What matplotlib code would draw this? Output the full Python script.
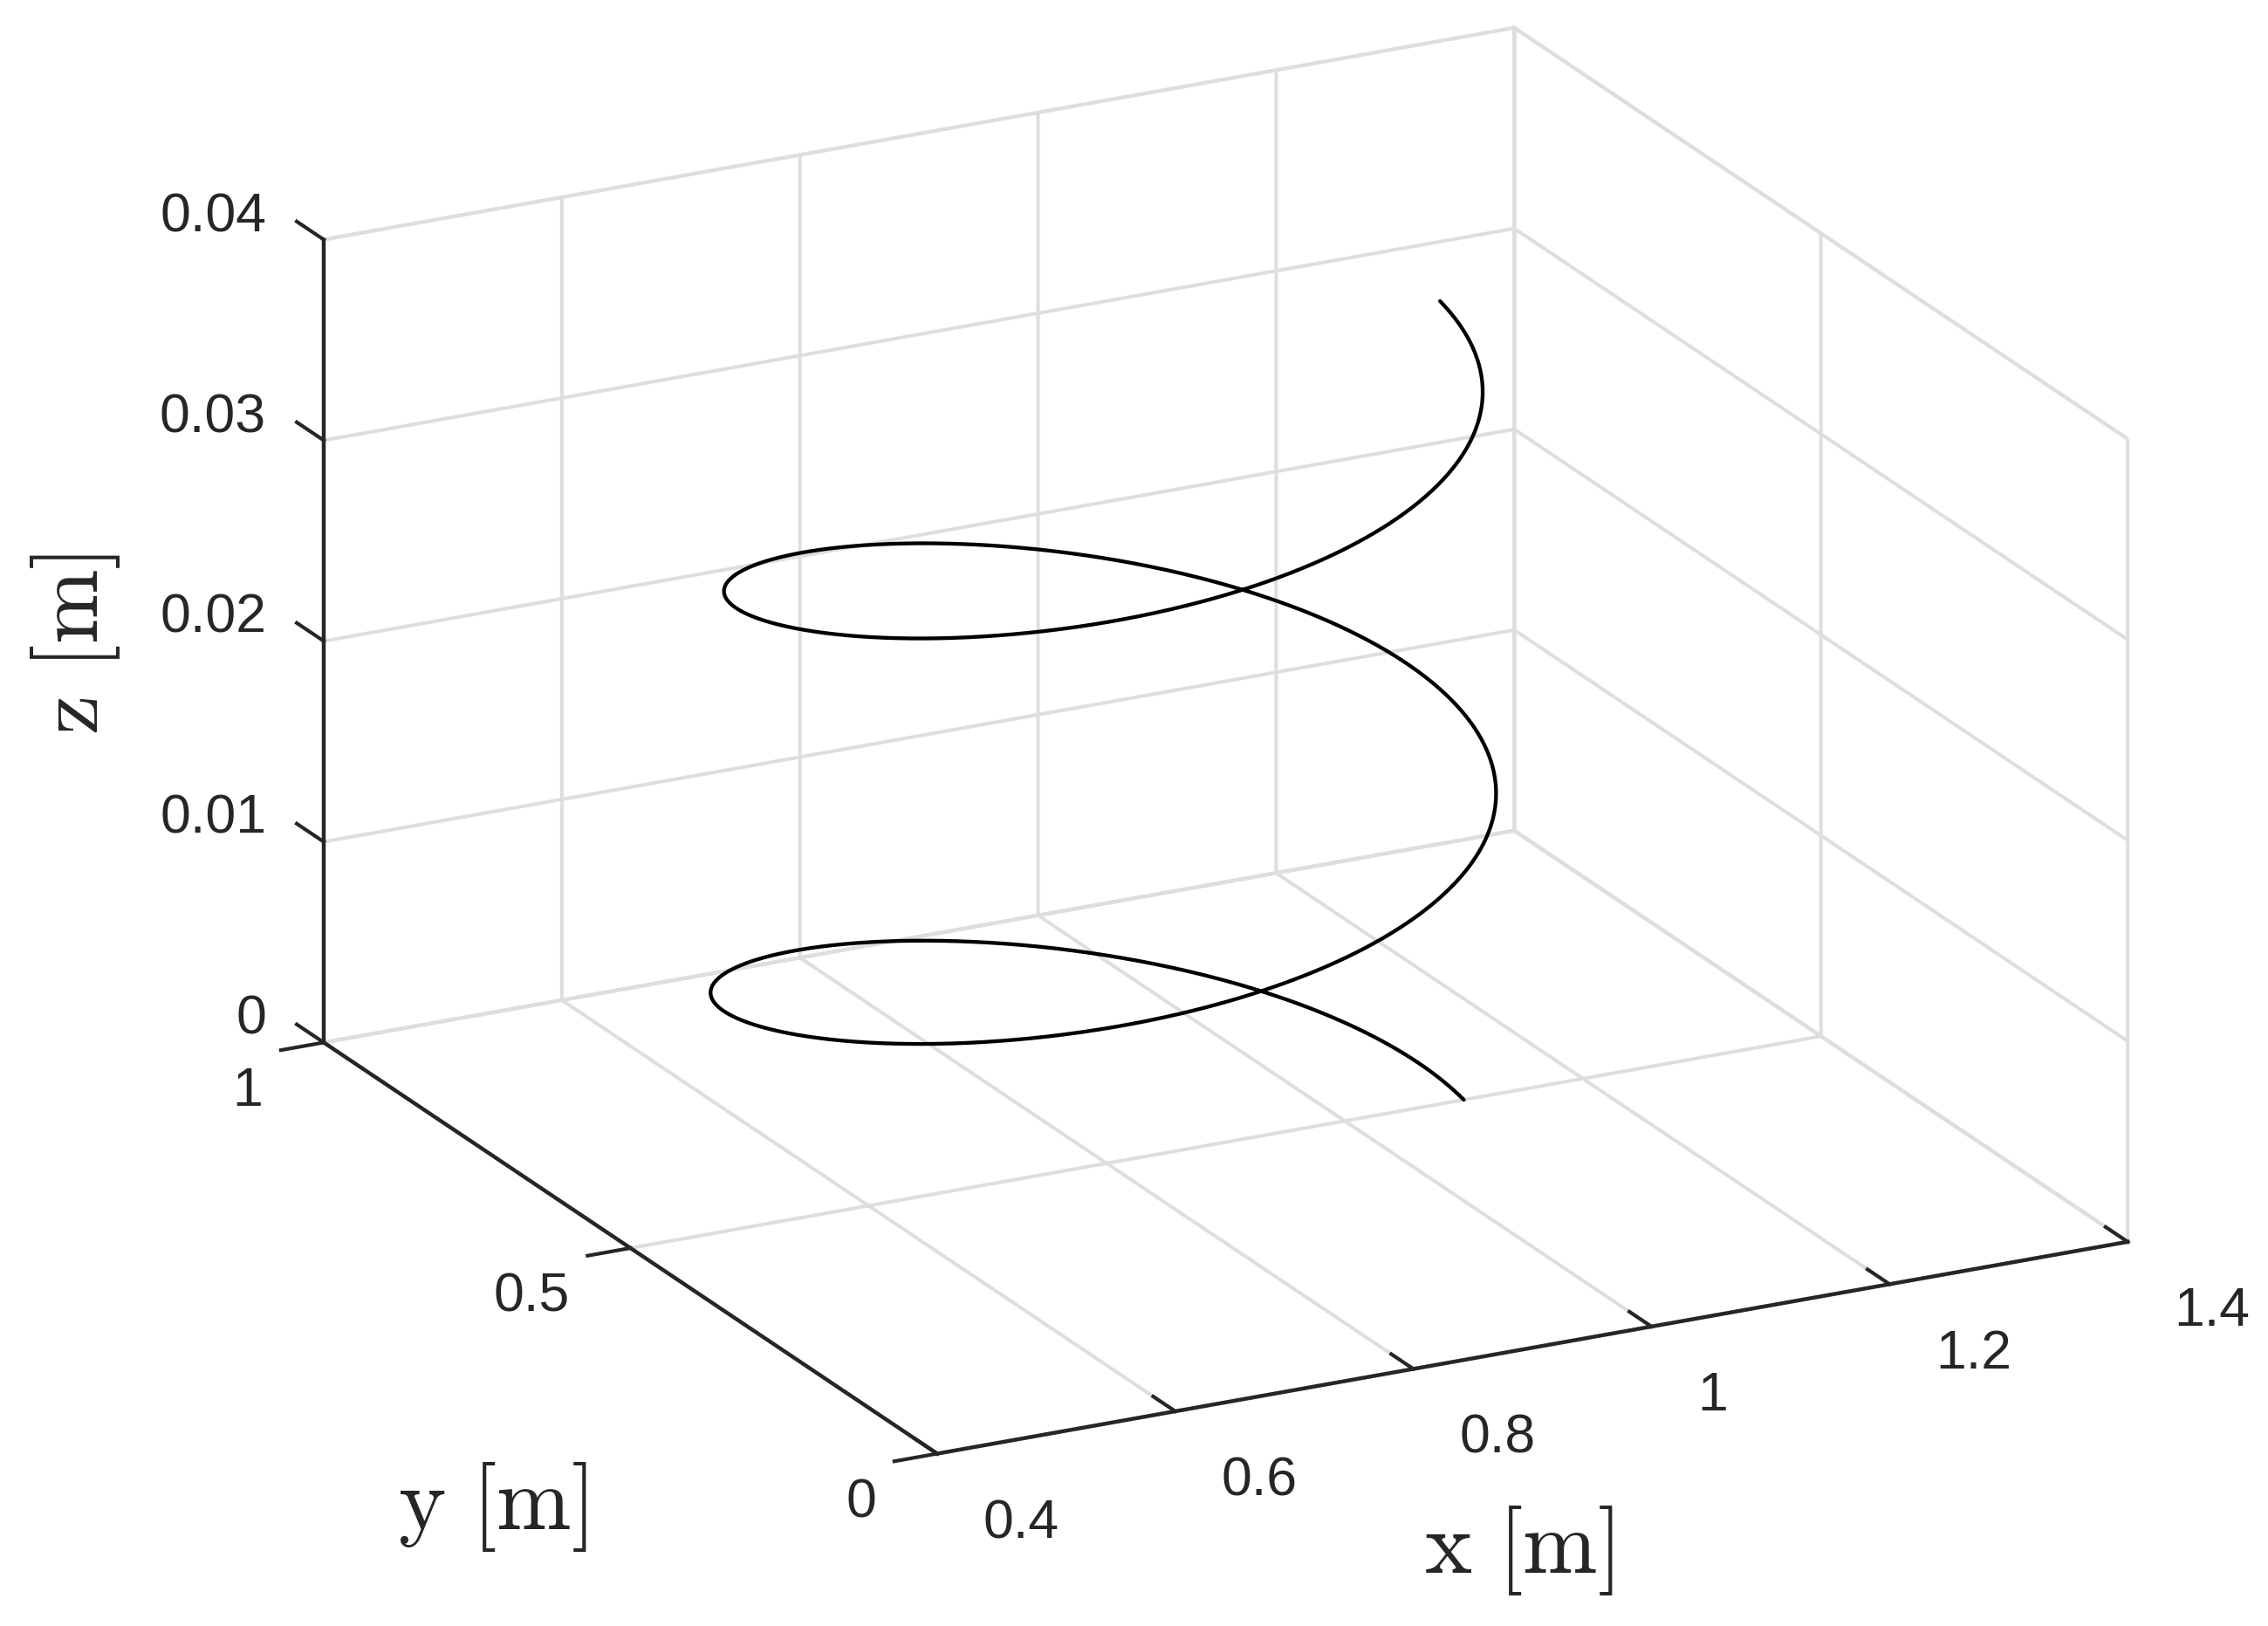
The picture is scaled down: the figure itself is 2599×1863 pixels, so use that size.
import numpy as np
import matplotlib
matplotlib.use('Agg')
import matplotlib.pyplot as plt
from mpl_toolkits.mplot3d import proj3d

# ---------------- data ----------------
# conical helix: two turns, radius shrinking slightly, rising 0 -> 0.04 m
helix_center_x = 0.8
helix_center_y = 0.5
helix_radius_start = 0.30
helix_radius_end = 0.28
helix_z_start = 0.0
helix_z_end = 0.04
helix_turns = 2.0
helix_samples = 1200

x_lim = (0.4, 1.4)
y_lim = (0.0, 1.0)
z_lim = (0.0, 0.04)
x_ticks = [0.4, 0.6, 0.8, 1.0, 1.2, 1.4]
x_ticklabels = ['0.4', '0.6', '0.8', '1', '1.2', '1.4']
y_ticks = [0.0, 0.5, 1.0]
y_ticklabels = ['0', '0.5', '1']
z_ticks = [0.0, 0.01, 0.02, 0.03, 0.04]
z_ticklabels = ['0', '0.01', '0.02', '0.03', '0.04']
x_label = r'$\mathrm{x\ [m]}$'
y_label = r'$\mathrm{y\ [m]}$'
z_label = r'$\mathrm{z\ [m]}$'

# ---------------- style ----------------
W, H, DPI = 2599, 1863, 200
GRID = '#dedede'
AXC = '#262626'
plt.rcParams['mathtext.fontset'] = 'cm'
plt.rcParams['font.family'] = ['Liberation Sans', 'DejaVu Sans']

fig = plt.figure(figsize=(W / DPI, H / DPI), dpi=DPI)
fig.patch.set_facecolor('white')
ax = fig.add_axes([0.1, 0.1, 0.8, 0.8], projection='3d', proj_type='ortho')
ax.set_facecolor('white')
ax.view_init(elev=20.2, azim=-117.26)
ax.set_box_aspect((1, 1, 0.6387))

s = np.linspace(0.0, 1.0, helix_samples)
theta = 2 * np.pi * helix_turns * s
r = helix_radius_start + (helix_radius_end - helix_radius_start) * s
hx = helix_center_x + r * np.cos(theta)
hy = helix_center_y + r * np.sin(theta)
hz = helix_z_start + (helix_z_end - helix_z_start) * s
ax.plot(hx, hy, hz, color='black', lw=1.55, solid_capstyle='round')

# z axis drawn on the left-back edge (x = xmin, y = ymax) with ticks pointing +y
z_tick_len = 0.044 * (y_lim[1] - y_lim[0])
ax.plot([x_lim[0], x_lim[0]], [y_lim[1], y_lim[1]], list(z_lim), color=AXC, lw=1.6,
        solid_capstyle='projecting')
for v in z_ticks:
    ax.plot([x_lim[0], x_lim[0]], [y_lim[1], y_lim[1] + z_tick_len], [v, v], color=AXC, lw=1.5)

ax.set_xlim(*x_lim)
ax.set_ylim(*y_lim)
ax.set_zlim(*z_lim)
ax.set_xticks(x_ticks)
ax.set_yticks(y_ticks)
ax.set_zticks(z_ticks)
ax.set_xticklabels([])
ax.set_yticklabels([])
ax.set_zticklabels([])

for axis in (ax.xaxis, ax.yaxis, ax.zaxis):
    axis.set_pane_color((1, 1, 1, 1))
    axis.pane.set_edgecolor(GRID)
    axis.pane.set_linewidth(1.45)
    axis._axinfo['grid'].update(color=GRID, linewidth=1.45, linestyle='-')
    axis._axinfo['tick'].update(inward_factor=0.0, outward_factor=0.45,
                                linewidth={True: 1.5, False: 1.0})
    axis.line.set_color(AXC)
    axis.line.set_linewidth(1.6)
    axis.set_tick_params(color=AXC)
ax.yaxis._axinfo['tick'].update(inward_factor=0.45, outward_factor=0.0)
ax.zaxis.set_ticks_position('none')
ax.zaxis.line.set_color((0, 0, 0, 0))
ax.grid(True)

# ---------------- fit box to the reference placement ----------------
tgt_left = (371.0, 1194.0)     # (x=0.4, y=1, z=0)
tgt_top = (1735.0, 31.8)       # (x=1.4, y=1, z=0.04)
tgt_right_x = 2438.2           # (x=1.4, y=0, z=0)


def point_px(x, y, z):
    xs, ys, _ = proj3d.proj_transform(np.array([x]), np.array([y]), np.array([z]), ax.get_proj())
    px = ax.transData.transform(np.column_stack([xs, ys]))[0]
    return px[0], H - px[1]

for _ in range(4):
    fig.canvas.draw()
    L = point_px(x_lim[0], y_lim[1], z_lim[0])
    R = point_px(x_lim[1], y_lim[0], z_lim[0])
    T = point_px(x_lim[1], y_lim[1], z_lim[1])
    sc = (tgt_right_x - tgt_left[0]) / (R[0] - L[0])
    bb = ax.get_position()
    ax_x0, ax_y0 = bb.x0 * W, (1 - bb.y1) * H
    new_w, new_h = bb.width * W * sc, bb.height * H * sc
    new_x0 = tgt_left[0] - sc * (L[0] - ax_x0)
    new_top = tgt_top[1] - sc * (T[1] - ax_y0)
    ax.set_position([new_x0 / W, 1 - (new_top + new_h) / H, new_w / W, new_h / H])
fig.canvas.draw()

# ---------------- tick labels (placed at projected tick positions) ----------------
TFS = 22.5


def label_at(x, y, z, text, dx, dy, ha):
    px, py = point_px(x, y, z)          # py measured from top
    fig.text((px + dx) / W, 1 - (py - dy) / H, text, ha=ha, va='center',
             fontsize=TFS, color=AXC)

for v, lab in zip(z_ticks, z_ticklabels):
    label_at(x_lim[0], y_lim[1], v, lab, -66, 26, 'right')
for v, lab in zip(y_ticks, y_ticklabels):
    label_at(x_lim[0], v, z_lim[0], lab, -70, -56, 'right')
for v, lab in zip(x_ticks, x_ticklabels):
    label_at(v, y_lim[0], z_lim[0], lab, 53, -80, 'left')

# ---------------- axis labels ----------------
LFS = 37
fig.text(86 / W, 1 - 738 / H, z_label, rotation=90, ha='center', va='center', fontsize=LFS, color=AXC)
fig.text(564 / W, 1 - 1726 / H, y_label, ha='center', va='center', fontsize=LFS, color=AXC)
fig.text(1740 / W, 1 - 1777 / H, x_label, ha='center', va='center', fontsize=LFS, color=AXC)

fig.savefig('out.png', dpi=DPI, facecolor='white')
